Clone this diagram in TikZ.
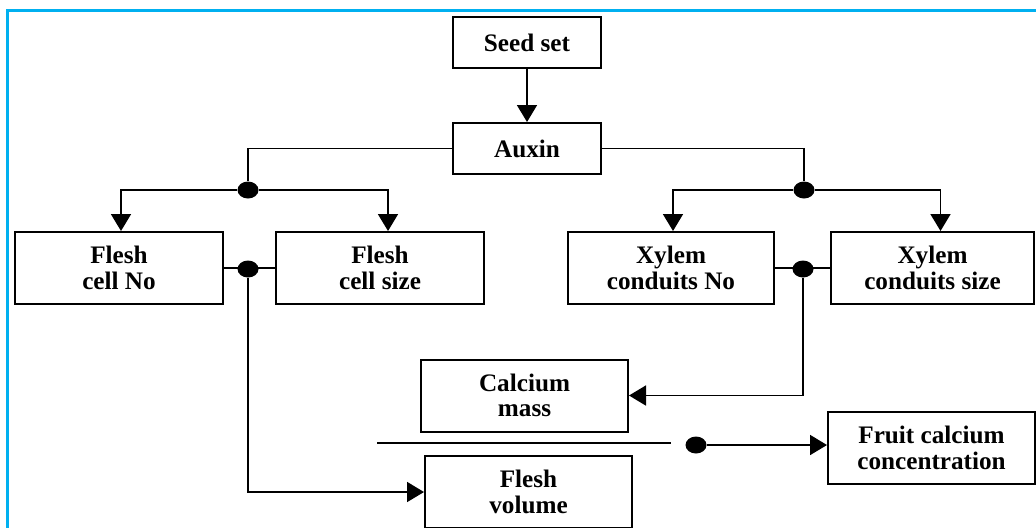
\documentclass[tikz,border=0pt]{standalone}
\usepackage{fontspec}
\setmainfont{Liberation Serif}
\usetikzlibrary{calc}
\usetikzlibrary{positioning}
\usetikzlibrary{arrows.meta}
\usetikzlibrary{shapes.geometric}
\definecolor{framecyan}{RGB}{0,176,240}
\tikzset{
  myarrow/.style={
    draw=black,
    line width=0.9pt,
    -{Triangle[width=10pt,length=8.5pt]},
  },
  myline/.style={
    draw=black,
    line width=0.9pt,
  },
  mybox/.style={
    draw=black,
    shape=rectangle,
    line width=1pt,
    align=center,
    inner sep=2pt,
    minimum width=103.5pt,
    minimum height=36pt,
    font=\bfseries\fontsize{12.6}{12.8}\selectfont
  },
  mydot/.style={
    fill=black,
    shape=ellipse,
    inner sep=0pt,
    minimum width=10.5pt,
    minimum height=8.5pt,
  },
}

\begin{document}
\begin{tikzpicture}[x=0.5pt, y=-0.5pt]
    \useasboundingbox (0,0) rectangle (1036,527);
    \draw[framecyan, line width=1.5pt] (7,10) rectangle (1050,545);

    \node[mybox, minimum width=74pt, minimum height=25.5pt] (S) at (527,42.5) {Seed set};
    \node[mybox, minimum width=74pt, minimum height=25.5pt] (A) at (527,148.5) {Auxin};

    \node[mybox, minimum width=104pt] (FN) at (119,268) {Flesh\\cell No};
    \node[mybox, minimum width=104pt] (FS) at (380,268) {Flesh\\cell size};
    \node[mybox, minimum width=103pt] (XN) at (671,268) {Xylem\\conduits No};
    \node[mybox, minimum width=101.5pt] (XS) at (932.5,268) {Xylem\\conduits size};

    \node[mybox] (CM) at (524.5,395.5) {Calcium\\mass};
    \node[mybox] (FV) at (528.5,492) {Flesh\\volume};
    \node[mybox] (FC) at (931.5,448) {Fruit calcium\\concentration};

    \node[mydot] (dA) at (248,190) {};
    \node[mydot] (dB) at (804,190) {};
    \node[mydot] (dF) at (248,269) {};
    \node[mydot] (dX) at (803,269) {};
    \node[mydot] (dC) at (696,445) {};

    \coordinate (barL) at (377,443);
    \coordinate (barR) at (671,443);

    \draw [myarrow] (S) -- (A);
    \draw [myline] (A.west) -| (dA);
    \draw [myline] (A.east) -| (dB);
    \draw [myarrow] (dA) -| ($(FN.north)+(2,0)$);
    \draw [myarrow] (dA) -| ($(FS.north)+(8,0)$);
    \draw [myarrow] (dB) -| ($(XN.north)+(2,0)$);
    \draw [myarrow] (dB) -| ($(XS.north)+(8,0)$);

    \draw [myline] (FN.east) -- (FS.west);
    \draw [myline] (XN.east) -- (XS.west);
    \draw [myarrow] (dF) |- (FV.west);
    \draw [myarrow] (dX) |- (CM.east);

    \draw [myline] (barL) -- (barR);
    \draw [myarrow] (dC) -- (dC -| FC.west);
  \end{tikzpicture}
\end{document}
